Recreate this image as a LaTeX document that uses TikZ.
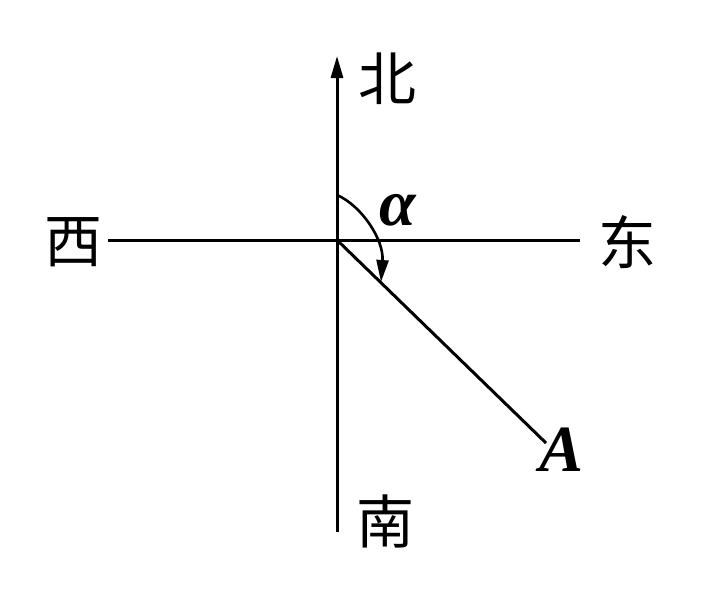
\documentclass[tikz,border=0pt]{standalone}
\usepackage{fontspec}
\setmainfont{Liberation Serif}
\newfontfamily\cjk{Noto Sans CJK SC}
\usetikzlibrary{arrows.meta}
\begin{document}
\begin{tikzpicture}[x=1pt,y=-1pt,
  axis/.style={line width=3pt},
  tipstyle/.style={-{Triangle[length=22pt,width=12pt]}},
  cjklabel/.style={font=\cjk\fontsize{58}{58}\selectfont, inner sep=0pt},
  latlabel/.style={font=\fontsize{66}{66}\selectfont\bfseries\itshape, inner sep=0pt}]
\useasboundingbox (0,0) rectangle (728,595);
\coordinate (O) at (337,240);
\coordinate (N) at (337,56);
\coordinate (S) at (337,532);
\coordinate (W) at (108,240);
\coordinate (E) at (580,240);
\coordinate (P) at (546,443);
\coordinate (arcS) at (337,195);
\coordinate (arcE) at (381,282);
\draw[axis] (W) -- (E);
\draw[axis] (S) -- (O);
\draw[axis,tipstyle] (O) -- (N);
\draw[axis] (O) -- (P);
\draw[line width=2.6pt,tipstyle] (arcS) .. controls (362,206) and (384,240) .. (arcE);
\node[cjklabel] (bei) at (387,79) {北};
\node[cjklabel] (nan) at (385,521) {南};
\node[cjklabel] (xi) at (73,242) {西};
\node[cjklabel] (dong) at (627,242) {东};
\node[latlabel] (A) at (562,450) {A};
\node[latlabel] (alpha) at (398,210) {α};
\end{tikzpicture}
\end{document}
